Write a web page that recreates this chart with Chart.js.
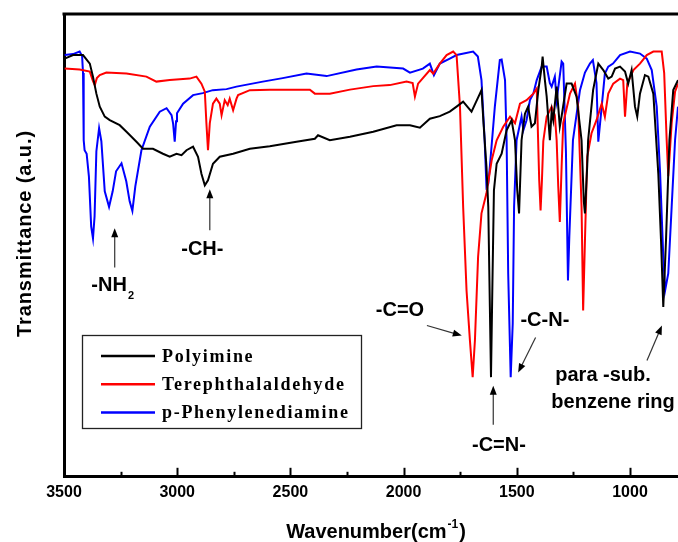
<!DOCTYPE html>
<html><head><meta charset="utf-8">
<script src="https://cdn.jsdelivr.net/npm/chart.js@4.4.1/dist/chart.umd.min.js"></script>
<style>html,body{margin:0;padding:0;background:#fff;overflow:hidden}canvas{display:block}</style>
</head><body>
<canvas id="c" width="678" height="542"></canvas>
<script>
// ---------- DATA ----------
const seriesNames = ['Polyimine', 'Terephthalaldehyde', 'p-Phenylenediamine'];
const xTickLabels = [3500, 3000, 2500, 2000, 1500, 1000];
const xMinorTicks = [3250, 2750, 2250, 1750, 1250];

const polyimineWn = [3497,3460,3416,3386,3372,3357,3342,3320,3298,3254,3224,3180,3151,3107,3063,3033,3003,2981,2959,2930,2908,2893,2878,2864,2842,2812,2753,2679,2591,2473,2392,2378,2326,2237,2134,2031,1972,1928,1884,1840,1796,1766,1737,1700,1663,1656,1647,1634,1626,1619,1614,1607,1601,1589,1567,1545,1523,1508,1498,1490,1479,1464,1450,1435,1420,1405,1390,1386,1376,1368,1354,1346,1339,1324,1310,1302,1280,1258,1236,1214,1204,1199,1189,1185,1163,1140,1118,1096,1081,1066,1044,1022,1008,993,978,968,956,934,919,897,875,863,853,841,826,809,788];
const polyimineT = [83.5,84.2,84.2,82.5,79.9,76.5,73.9,71.9,71.2,70.2,68.9,66.9,65.5,65.5,64.5,63.9,64.5,64.2,65.2,65.9,63.9,60.5,58.2,59.2,62.5,63.9,64.5,65.5,66.0,66.9,67.5,68.2,67.2,67.9,68.9,70.2,70.2,69.7,71.5,72.0,72.9,73.9,74.9,72.9,76.5,77.2,70.6,61.9,53.9,33.9,19.9,40.6,57.2,62.5,64.5,69.2,71.2,67.2,57.2,52.6,67.2,72.5,73.9,69.9,70.6,77.2,81.9,83.9,79.2,75.9,67.2,73.0,71.2,77.9,69.9,72.0,78.5,78.5,75.9,67.2,55.0,52.6,62.0,67.2,77.2,82.5,81.2,79.5,79.9,81.5,81.9,80.9,78.5,81.2,73.9,71.9,76.5,80.2,79.9,76.5,60.5,47.2,33.9,47.2,67.2,77.2,79.2];

const tereWn = [3497,3431,3386,3372,3364,3355,3342,3313,3224,3136,3092,3033,2945,2915,2893,2878,2871,2864,2856,2842,2827,2812,2804,2790,2777,2768,2753,2738,2731,2679,2591,2414,2392,2326,2237,2134,2061,1987,1960,1950,1936,1884,1869,1840,1810,1781,1766,1751,1737,1722,1707,1695,1685,1671,1656,1634,1611,1589,1560,1530,1508,1486,1457,1427,1412,1401,1395,1389,1383,1368,1346,1332,1324,1317,1310,1302,1295,1265,1243,1229,1214,1207,1199,1189,1170,1148,1125,1111,1096,1074,1044,1030,1022,1012,985,956,926,897,860,849,838,831,816,801,788];
const tereT = [81.5,81.3,80.9,79.0,78.2,79.6,80.2,80.7,80.5,79.9,78.9,79.2,79.5,79.9,78.5,76.9,70.6,65.2,70.6,74.5,75.5,74.5,72.2,75.2,74.2,75.5,73.2,75.5,76.2,77.2,77.3,77.3,76.5,76.5,77.3,78.0,78.2,78.9,78.6,75.9,78.5,81.2,80.5,82.5,84.2,84.9,84.2,73.9,53.9,37.2,27.2,19.9,27.2,43.9,52.6,56.6,63.2,67.2,69.9,71.9,70.6,74.5,75.2,76.5,77.5,59.2,53.2,59.2,67.0,71.9,73.9,72.2,67.2,58.0,50.9,62.0,70.6,76.5,78.5,73.9,53.9,33.2,47.2,63.9,68.6,71.2,74.5,71.9,76.5,78.5,79.5,79.2,71.9,78.5,81.2,82.5,84.2,84.9,84.9,80.6,67.2,60.0,70.6,76.9,78.5];

const ppdWn = [3497,3460,3431,3420,3416,3413,3409,3400,3390,3380,3372,3365,3357,3345,3335,3320,3301,3285,3270,3246,3225,3210,3198,3185,3158,3121,3077,3047,3025,3018,3011,3005,3001,2974,2930,2887,2843,2782,2738,2622,2534,2429,2340,2208,2119,2002,1972,1915,1884,1866,1840,1796,1766,1693,1672,1656,1642,1634,1626,1619,1597,1575,1567,1552,1545,1538,1527,1518,1512,1501,1479,1471,1457,1442,1427,1412,1390,1368,1354,1346,1332,1324,1302,1295,1283,1274,1268,1252,1221,1199,1177,1164,1148,1140,1125,1111,1096,1075,1044,1000,956,926,904,882,867,853,845,831,816,801,788];
const ppdT = [84.2,84.4,84.9,84.0,80.6,67.2,65.2,64.5,60.0,50.0,47.6,52.0,65.0,69.6,67.0,57.0,53.9,57.0,61.0,62.6,59.0,55.0,53.1,58.0,65.2,69.9,72.9,73.6,72.2,70.5,66.9,71.0,72.6,74.5,76.2,76.6,77.2,77.4,77.9,78.9,79.6,80.5,80.0,81.3,81.9,81.5,80.7,81.5,82.5,80.2,82.5,83.5,84.2,84.9,83.9,79.2,67.2,57.9,58.5,61.9,73.9,83.2,83.3,79.2,67.2,40.6,19.9,30.6,53.9,67.2,71.9,69.2,71.2,75.2,76.5,79.2,81.9,81.9,78.6,77.9,79.9,75.2,82.9,82.5,65.0,39.2,48.0,67.2,77.2,80.7,82.5,83.2,78.6,66.9,73.9,80.5,81.9,82.5,84.2,84.9,84.5,83.5,81.2,73.9,60.6,43.9,37.2,40.6,53.9,67.2,73.9];

// ---------- STYLE / LAYOUT ----------
const seriesColors = ['#000000', '#ff0000', '#0000ff'];
const SANS = "'Liberation Sans', Arial, sans-serif";
const SERIF = "'Liberation Serif', 'Times New Roman', serif";

// annotations placed in data coordinates (wavenumber, a.u.)
const annotations = [
  { text: '-NH', sub: '2', x: 3285, y: 37.0, arrow: [3276, 41.8, 3276, 49.6] },
  { text: '-CH-', x: 2889, y: 44.2, arrow: [2856, 49.2, 2856, 57.4] },
  { text: '-C=O', x: 2016, y: 32.2, arrow: [1897, 30.2, 1743, 28.2] },
  { text: '-C-N-', x: 1376, y: 30.2, arrow: [1417, 27.8, 1494, 20.8] },
  { text: '-C=N-', x: 1579, y: 5.2, arrow: [1604, 10.4, 1604, 18.2] },
  { text: 'para -sub.', x: 1119, y: 19.2, arrow: [925, 23.2, 859, 30.2] },
  { text: 'benzene ring', x: 1075, y: 13.8 }
];

function toPoints(xs, ys) { return xs.map((v, i) => ({ x: v, y: ys[i] })); }

function drawArrow(ctx, x1, y1, x2, y2) {
  const a = Math.atan2(y2 - y1, x2 - x1);
  const L = 9, W = 3.5;
  ctx.beginPath();
  ctx.moveTo(x1, y1);
  ctx.lineTo(x2 - Math.cos(a) * L * 0.7, y2 - Math.sin(a) * L * 0.7);
  ctx.stroke();
  ctx.beginPath();
  ctx.moveTo(x2, y2);
  ctx.lineTo(x2 - L * Math.cos(a) + W * Math.sin(a), y2 - L * Math.sin(a) - W * Math.cos(a));
  ctx.lineTo(x2 - L * Math.cos(a) - W * Math.sin(a), y2 - L * Math.sin(a) + W * Math.cos(a));
  ctx.closePath();
  ctx.fill();
}

const decorPlugin = {
  id: 'decor',
  afterDraw(chart) {
    const { ctx, chartArea: ca, scales: { x, y } } = chart;
    ctx.save();
    // top frame line
    ctx.strokeStyle = '#000';
    ctx.lineWidth = 3;
    ctx.beginPath();
    ctx.moveTo(ca.left - 1.5, ca.top);
    ctx.lineTo(ca.right, ca.top);
    ctx.stroke();
    // inward ticks
    ctx.lineWidth = 2;
    xTickLabels.forEach(t => {
      const px = Math.round(x.getPixelForValue(t)) + 0.5;
      ctx.beginPath(); ctx.moveTo(px, ca.bottom); ctx.lineTo(px, ca.bottom - 9); ctx.stroke();
    });
    xMinorTicks.forEach(t => {
      const px = Math.round(x.getPixelForValue(t)) + 0.5;
      ctx.beginPath(); ctx.moveTo(px, ca.bottom); ctx.lineTo(px, ca.bottom - 5); ctx.stroke();
    });

    // axis titles
    ctx.fillStyle = '#000';
    ctx.font = 'bold 20px ' + SANS;
    ctx.textBaseline = 'alphabetic';
    const main = 'Wavenumber(cm', sup = '-1', close = ')';
    const w1 = ctx.measureText(main).width;
    ctx.font = 'bold 12px ' + SANS;
    const w2 = ctx.measureText(sup).width;
    ctx.font = 'bold 20px ' + SANS;
    const w3 = ctx.measureText(close).width;
    let sx = 376 - (w1 + w2 + w3 + 2) / 2;
    ctx.textAlign = 'left';
    ctx.fillText(main, sx, 537.5);
    ctx.font = 'bold 12px ' + SANS;
    ctx.fillText(sup, sx + w1 + 1, 528);
    ctx.font = 'bold 20px ' + SANS;
    ctx.fillText(close, sx + w1 + w2 + 2, 537.5);

    ctx.save();
    ctx.translate(31, 233.5);
    ctx.rotate(-Math.PI / 2);
    ctx.textAlign = 'center';
    ctx.font = 'bold 20px ' + SANS;
    ctx.letterSpacing = '0.9px';
    ctx.fillText('Transmittance (a.u.)', 0, 0);
    ctx.restore();

    // annotations
    ctx.strokeStyle = '#333';
    ctx.fillStyle = '#000';
    ctx.lineWidth = 1.2;
    annotations.forEach(an => {
      const px = x.getPixelForValue(an.x), py = y.getPixelForValue(an.y);
      ctx.font = 'bold 20px ' + SANS;
      if (an.sub) {
        const tw = ctx.measureText(an.text).width;
        ctx.font = 'bold 11px ' + SANS;
        const sw = ctx.measureText(an.sub).width;
        const start = px - (tw + sw + 1) / 2;
        ctx.textAlign = 'left';
        ctx.font = 'bold 20px ' + SANS;
        ctx.fillText(an.text, start, py);
        ctx.font = 'bold 11px ' + SANS;
        ctx.fillText(an.sub, start + tw + 1, py + 8);
      } else {
        ctx.textAlign = 'center';
        ctx.fillText(an.text, px, py);
      }
      if (an.arrow) {
        const [ax1, ay1, ax2, ay2] = an.arrow;
        drawArrow(ctx, x.getPixelForValue(ax1), y.getPixelForValue(ay1), x.getPixelForValue(ax2), y.getPixelForValue(ay2));
      }
    });

    // legend
    const bx = 82.5, by = 335.5, bw = 279, bh = 93;
    ctx.fillStyle = '#fff';
    ctx.fillRect(bx, by, bw, bh);
    ctx.strokeStyle = '#222';
    ctx.lineWidth = 1.3;
    ctx.strokeRect(bx, by, bw, bh);
    chart.data.datasets.forEach((ds, i) => {
      const ly = 356 + i * 28.2;
      ctx.strokeStyle = ds.borderColor;
      ctx.lineWidth = 2.5;
      ctx.beginPath(); ctx.moveTo(101, ly); ctx.lineTo(155, ly); ctx.stroke();
      ctx.fillStyle = '#000';
      ctx.font = 'bold 18px ' + SERIF;
      ctx.letterSpacing = '1.7px';
      ctx.textAlign = 'left';
      ctx.textBaseline = 'alphabetic';
      ctx.fillText(ds.label, 162, ly + 6);
      ctx.letterSpacing = '0px';
    });
    ctx.restore();
  }
};

Chart.defaults.font.family = SANS;
new Chart(document.getElementById('c'), {
  type: 'line',
  data: {
    datasets: [
      { label: seriesNames[0], data: toPoints(polyimineWn, polyimineT), borderColor: seriesColors[0] },
      { label: seriesNames[1], data: toPoints(tereWn, tereT), borderColor: seriesColors[1] },
      { label: seriesNames[2], data: toPoints(ppdWn, ppdT), borderColor: seriesColors[2] }
    ].map(d => Object.assign(d, { borderWidth: 2, pointRadius: 0, tension: 0, fill: false }))
  },
  options: {
    responsive: false,
    animation: false,
    devicePixelRatio: 1,
    layout: { padding: { left: 64, top: 14, right: 0, bottom: 34 } },
    plugins: { legend: { display: false }, tooltip: { enabled: false } },
    scales: {
      x: {
        type: 'linear', position: 'bottom', reverse: true, min: 788, max: 3500,
        afterBuildTicks: s => { s.ticks = xTickLabels.map(v => ({ value: v })); },
        ticks: { color: '#000', font: { size: 16, weight: 'bold' }, padding: 6, maxRotation: 0, autoSkip: false,
                 callback: v => String(v) },
        grid: { display: false, drawTicks: false },
        border: { display: true, color: '#000', width: 3 }
      },
      y: {
        min: 0, max: 92.4,
        ticks: { display: false },
        grid: { display: false, drawTicks: false },
        border: { display: true, color: '#000', width: 3 }
      }
    }
  },
  plugins: [decorPlugin]
});
</script>
</body></html>
